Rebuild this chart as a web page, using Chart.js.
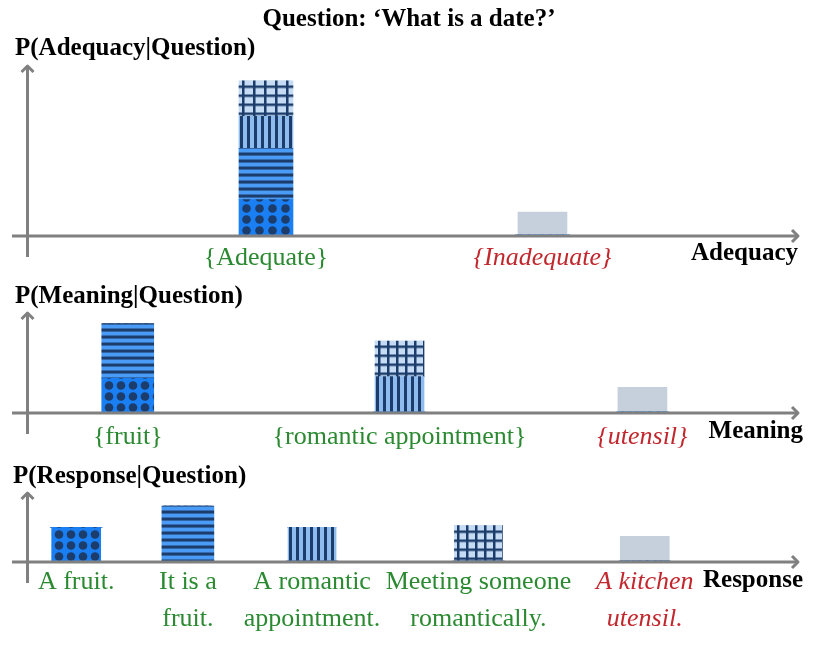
<!DOCTYPE html>
<html>
<head>
<meta charset="utf-8">
<script src="https://cdn.jsdelivr.net/npm/chart.js@4.4.1/dist/chart.umd.min.js"></script>
<style>
  body { margin: 0; background: #fff; }
  #wrap { position: relative; width: 816px; height: 649px; overflow: hidden; font-family: 'Liberation Serif', 'Times New Roman', serif; }
  canvas { position: absolute; left: 0; }
  .t { position: absolute; font-weight: bold; font-size: 25px; line-height: 25px; color: #000; white-space: nowrap; }
</style>
</head>
<body>
<div id="wrap">
  <canvas id="adequacyChart" width="816" height="290" style="top:0"></canvas>
  <canvas id="meaningChart" width="816" height="170" style="top:290px"></canvas>
  <canvas id="responseChart" width="816" height="189" style="top:460px"></canvas>
  <div class="t" style="left:409px; top:5px; transform:translateX(-50%)">Question: ‘What is a date?’</div>
  <div class="t" style="left:15px; top:34px">P(Adequacy|Question)</div>
  <div class="t" style="left:15px; top:282px">P(Meaning|Question)</div>
  <div class="t" style="left:13px; top:462px">P(Response|Question)</div>
  <div class="t" style="right:18px; top:239px">Adequacy</div>
  <div class="t" style="right:13px; top:417px">Meaning</div>
  <div class="t" style="right:13px; top:566px">Response</div>
</div>
<script>
// adequacy panel
const adequacyLabels = ['{Adequate}', '{Inadequate}'];
const adequacyOk = [true, false];
const adequacyDots = [0.20, 0];
const adequacyLines = [0.29, 0];
const adequacyBars = [0.18, 0];
const adequacyGrid = [0.20, 0];
const adequacyOther = [0, 0.13];

// meaning panel
const meaningLabels = ['{fruit}', '{romantic appointment}', '{utensil}'];
const meaningOk = [true, true, false];
const meaningDots = [0.19, 0, 0];
const meaningLines = [0.31, 0, 0];
const meaningBars = [0, 0.20, 0];
const meaningGrid = [0, 0.20, 0];
const meaningOther = [0, 0, 0.14];

// response panel
const responseLabels = [['A fruit.'], ['It is a', 'fruit.'], ['A romantic', 'appointment.'], ['Meeting someone', 'romantically.'], ['A kitchen', 'utensil.']];
const responseOk = [true, true, true, true, false];
const responseDots = [0.19, 0, 0, 0, 0];
const responseLines = [0, 0.31, 0, 0, 0];
const responseBars = [0, 0, 0.19, 0, 0];
const responseGrid = [0, 0, 0, 0.20, 0];
const responseOther = [0, 0, 0, 0, 0.14];

// where the categories sit along each axis (percent of axis length)
const adequacySlots = [30.6, 66.0];
const meaningSlots = [12.9, 47.7, 78.8];
const responseSlots = [6.3, 20.6, 36.5, 57.8, 79.1];

const GREEN = '#2b8a31';
const RED = '#c1272d';
const INK = '#1c3d6b';
const SERIF = "'Liberation Serif', 'Times New Roman', serif";

function makeFill(kind, cfg) {
  if (kind === 'other') return '#c6d0dc';
  const tile = document.createElement('canvas');
  const c = tile.getContext('2d');
  if (kind === 'dots') {
    tile.width = cfg.dotW; tile.height = 11;
    c.fillStyle = '#1a7ff2'; c.fillRect(0, 0, tile.width, 11);
    c.fillStyle = INK; c.beginPath(); c.arc(tile.width / 2, 5.5, 4.3, 0, Math.PI * 2); c.fill();
  } else if (kind === 'lines') {
    tile.width = 4; tile.height = 7;
    c.fillStyle = '#4a9bf5'; c.fillRect(0, 0, 4, 7);
    c.fillStyle = INK; c.fillRect(0, 0, 4, 3);
  } else if (kind === 'bars') {
    tile.width = 7; tile.height = 4;
    c.fillStyle = '#8fbcee'; c.fillRect(0, 0, 7, 4);
    c.fillStyle = INK; c.fillRect(0, 0, 3, 4);
  } else {
    tile.width = cfg.gridW; tile.height = 9;
    c.fillStyle = '#c5dcf4'; c.fillRect(0, 0, tile.width, 9);
    c.fillStyle = INK;
    c.fillRect(3, 0, 2.5, 9);
    c.fillRect(0, 4, tile.width, 2.5);
  }
  return c.createPattern(tile, 'repeat');
}

// line the hatch up with the bar it fills
const patternAnchor = {
  id: 'patternAnchor',
  beforeDatasetsDraw(chart) {
    chart.data.datasets.forEach((ds, i) => {
      const pat = ds.backgroundColor;
      if (!(pat instanceof CanvasPattern)) return;
      let best = null, bestH = 0;
      chart.getDatasetMeta(i).data.forEach(el => {
        const h = Math.abs(el.base - el.y);
        if (h > bestH) { bestH = h; best = el; }
      });
      if (!best) return;
      const left = Math.round(best.x - best.width / 2);
      const top = Math.round(Math.min(best.y, best.base));
      const bottom = Math.round(Math.max(best.y, best.base));
      let tx = left, ty = top;
      if (ds.kind === 'dots') { tx = left + 1; ty = bottom - 10; }
      else if (ds.kind === 'lines') { ty = top + 4.5; }
      else if (ds.kind === 'bars') { tx = left + 1; }
      else { ty = top + 0.5; }
      pat.setTransform(new DOMMatrix([1, 0, 0, 1, tx, ty]));
    });
  }
};

const axisArrows = {
  id: 'axisArrows',
  afterDraw(chart) {
    const {ctx, chartArea: a} = chart;
    const x0 = a.left + 0.5;
    const y0 = chart.scales.y.getPixelForValue(0) + 1;
    const xEnd = a.right - 10;
    ctx.save();
    ctx.strokeStyle = '#808080';
    ctx.lineWidth = 3;
    ctx.beginPath();
    ctx.moveTo(x0, y0 + 21); ctx.lineTo(x0, a.top + 1);
    ctx.moveTo(a.left - 15, y0); ctx.lineTo(xEnd, y0);
    ctx.stroke();
    ctx.lineJoin = 'round';
    ctx.beginPath();
    ctx.moveTo(x0 - 6, a.top + 7); ctx.lineTo(x0, a.top + 1); ctx.lineTo(x0 + 6, a.top + 7);
    ctx.moveTo(xEnd - 6, y0 - 6); ctx.lineTo(xEnd, y0); ctx.lineTo(xEnd - 6, y0 + 6);
    ctx.stroke();
    ctx.restore();
  }
};

function panel(id, cfg) {
  const datasets = cfg.series.map(s => ({
    data: s.values.map((v, j) => ({x: cfg.slots[j], y: v})),
    backgroundColor: makeFill(s.kind, cfg),
    barThickness: s.width,
    borderWidth: 0,
    kind: s.kind
  }));
  return new Chart(document.getElementById(id), {
    type: 'bar',
    data: {datasets: datasets},
    options: {
      responsive: false,
      animation: false,
      layout: {padding: {top: cfg.top, left: 27, right: 8, bottom: 0}},
      plugins: {legend: {display: false}, tooltip: {enabled: false}},
      scales: {
        x: {
          type: 'linear', min: 0, max: 100, offset: false, stacked: true,
          grid: {display: false}, border: {display: false},
          afterBuildTicks: scale => { scale.ticks = cfg.slots.map(v => ({value: v})); },
          afterFit: scale => { scale.height = cfg.axisH; },
          ticks: {
            autoSkip: false, maxRotation: 0, minRotation: 0, padding: cfg.tickPad,
            callback: (v, i) => cfg.labels[i],
            color: c => cfg.ok[c.index] ? GREEN : RED,
            font: c => ({family: SERIF, size: 26, style: cfg.ok[c.index] ? 'normal' : 'italic', lineHeight: 1.42})
          }
        },
        y: {display: false, stacked: true, min: 0, max: cfg.ymax}
      }
    },
    plugins: [patternAnchor, axisArrows]
  });
}

panel('adequacyChart', {
  labels: adequacyLabels, ok: adequacyOk, slots: adequacySlots,
  top: 65, axisH: 55, ymax: 0.96, gridW: 11, dotW: 13, tickPad: -3,
  series: [
    {kind: 'dots', values: adequacyDots, width: 54},
    {kind: 'lines', values: adequacyLines, width: 54},
    {kind: 'bars', values: adequacyBars, width: 54},
    {kind: 'grid', values: adequacyGrid, width: 54},
    {kind: 'other', values: adequacyOther, width: 49}
  ]
});

panel('meaningChart', {
  labels: meaningLabels, ok: meaningOk, slots: meaningSlots,
  top: 22, axisH: 48, ymax: 0.565, gridW: 9, dotW: 12, tickPad: -1,
  series: [
    {kind: 'dots', values: meaningDots, width: 52},
    {kind: 'lines', values: meaningLines, width: 52},
    {kind: 'bars', values: meaningBars, width: 49},
    {kind: 'grid', values: meaningGrid, width: 49},
    {kind: 'other', values: meaningOther, width: 49}
  ]
});

panel('responseChart', {
  labels: responseLabels, ok: responseOk, slots: responseSlots,
  top: 32, axisH: 88, ymax: 0.39, gridW: 9, dotW: 12, tickPad: -5,
  series: [
    {kind: 'dots', values: responseDots, width: 49},
    {kind: 'lines', values: responseLines, width: 52},
    {kind: 'bars', values: responseBars, width: 48},
    {kind: 'grid', values: responseGrid, width: 48},
    {kind: 'other', values: responseOther, width: 49}
  ]
});
</script>
</body>
</html>
